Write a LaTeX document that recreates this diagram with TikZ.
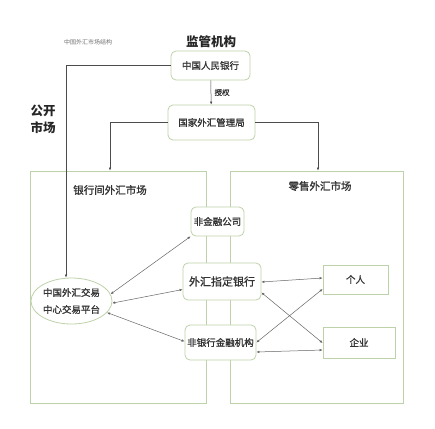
\documentclass[tikz,border=0pt]{standalone}
\usepackage{fontspec}
\setmainfont{Noto Sans CJK SC}
\newfontfamily\midfont{Noto Sans CJK SC}[FakeBold=1.2]
\usepackage{tikz}
\usetikzlibrary{positioning,arrows.meta,shapes.geometric}
\definecolor{bord}{RGB}{190,210,170}
\tikzset{
  box/.style={rectangle, rounded corners=5pt, draw=bord, fill=white, text=black!80,
              align=center, inner sep=1pt, line width=0.8pt},
  pbox/.style={rectangle, draw=bord, fill=white, text=black!80,
               align=center, inner sep=1pt, line width=0.8pt},
  mkt/.style={rectangle, draw=bord, line width=0.8pt},
  plat/.style={ellipse, draw=bord, fill=white, text=black!80,
               align=center, inner sep=0pt, line width=0.8pt},
  flowarr/.style={-{Latex[length=3pt,width=2.5pt]}, draw=black!70, line width=0.5pt},
  biarr/.style={{Latex[length=3pt,width=2.5pt]}-{Latex[length=3pt,width=2.5pt]}, draw=black!60, line width=0.5pt},
}

\begin{document}
\begin{tikzpicture}[x=1pt,y=-1pt]
\useasboundingbox[fill=white] (0,0) rectangle (435,428);
% titles
\node[font=\fontsize{6}{7}\selectfont, text=black!55] (ttl) at (88,42) {中国外汇市场结构};
\node[font=\fontsize{12.5}{14}\selectfont\bfseries, text=black!85] (sup) at (211,42) {监管机构};
\node[font=\fontsize{12.5}{17}\selectfont\bfseries, text=black!85, align=center] (open) at (43,119) {公开\\市场};
% two markets
\node[mkt, minimum width=176, minimum height=232] (inter) at (118,287) {};
\node[mkt, minimum width=173, minimum height=232] (retail) at (316.5,287) {};
\node[font=\fontsize{10.5}{12}\selectfont\midfont, text=black!80] (intert) at (110,190) {银行间外汇市场};
\node[font=\fontsize{10.5}{12}\selectfont\midfont, text=black!80] (retailt) at (320,186) {零售外汇市场};
% regulators
\node[box, minimum width=79, minimum height=29, font=\fontsize{9.5}{11}\selectfont\midfont] (pboc) at (210.5,65.5) {中国人民银行};
\node[box, minimum width=87, minimum height=35, font=\fontsize{9.5}{11}\selectfont\midfont] (safe) at (211.5,122.5) {国家外汇管理局};
% participants
\node[box, minimum width=53, minimum height=29, font=\fontsize{9.5}{11}\selectfont\midfont] (nfc) at (217.5,221.5) {非金融公司};
\node[box, minimum width=78, minimum height=37, font=\fontsize{11}{12}\selectfont\midfont] (bank) at (222,281.5) {外汇指定银行};
\node[box, minimum width=71, minimum height=35, font=\fontsize{9.5}{11}\selectfont\midfont] (nbfi) at (220.5,342.5) {非银行金融机构};
\node[pbox, minimum width=65, minimum height=29, font=\fontsize{9.5}{11}\selectfont\midfont] (indiv) at (355.5,279.5) {个人};
\node[pbox, minimum width=72, minimum height=31, font=\fontsize{9.5}{11}\selectfont\midfont] (corp) at (359,342.5) {企业};
\node[plat, minimum width=81, minimum height=46, font=\fontsize{9.5}{17}\selectfont\midfont] (cfets) at (71.5,301) {中国外汇交易\\中心交易平台};
% supervision lines
\draw[flowarr] (pboc) -- node[right, font=\fontsize{7.5}{9}\selectfont\midfont, text=black!80] {授权} (safe);
\draw[flowarr] (pboc.west) -| ([xshift=-5.5pt]cfets.north);
\draw[flowarr] (safe.west) -| ([xshift=-8pt]inter.north);
\draw[flowarr] (safe.east) -| ([xshift=1.5pt]retail.north);
% trading links
\draw[biarr] (cfets.10) -- (nfc.south west);
\draw[biarr] (cfets.-3) -- ([yshift=-8pt]bank.west);
\draw[biarr] (cfets.-18) -- ([yshift=1pt]nbfi.west);
\draw[biarr] ([yshift=-0.5pt]bank.east) -- ([yshift=1.5pt]indiv.west);
\draw[biarr] ([yshift=-11pt]bank.east) -- ([yshift=-0.5pt]corp.west);
\draw[biarr] (nbfi.east) -- ([yshift=-9.5pt]indiv.west);
\draw[biarr] ([yshift=-9.5pt]nbfi.east) -- ([yshift=-7.5pt]corp.west);
\end{tikzpicture}
\end{document}
